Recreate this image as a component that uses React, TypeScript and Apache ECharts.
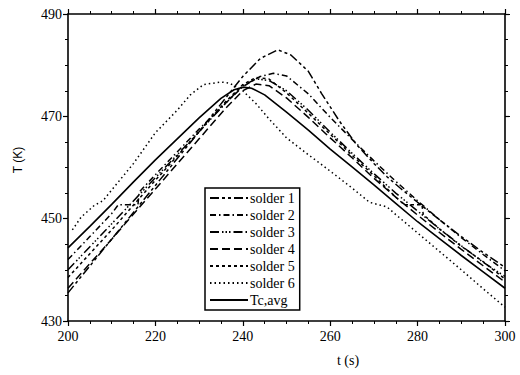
import React, { useEffect, useRef } from "react";
import * as echarts from "echarts";

const xTicks = [200, 220, 240, 260, 280, 300];
const yTicks = [430, 450, 470, 490];

const s1T = [200, 210, 220, 230, 236, 240, 244, 248, 251, 255, 258, 262, 266, 270, 273, 276, 280, 285, 290, 295, 300];
const s1V = [435.5, 446, 456.5, 467, 473.5, 477.8, 481.3, 483, 482, 478.8, 474.5, 469.2, 464.5, 460.8, 458.2, 456, 453.2, 449.8, 446.5, 443.4, 440.5];

const s2T = [200, 205, 210, 211.5, 216, 216.3, 220, 230, 236, 240, 244, 247, 250, 255, 260, 265, 270, 275, 280, 285, 290, 295, 300];
const s2V = [442, 446.5, 451, 452.7, 452.7, 455.2, 458.6, 467.5, 472.5, 475.8, 477.8, 478.4, 477.9, 474.4, 469.8, 465.5, 461.3, 457.3, 453.5, 449.8, 446.3, 443, 439.8];

const s3T = [200, 210, 220, 230, 236, 240, 243, 246, 250, 255, 260, 265, 270, 275, 280, 285, 290, 295, 300];
const s3V = [440, 449, 458, 467, 472.5, 476, 477.3, 477, 475, 471.2, 466.9, 462.8, 458.8, 455, 451.5, 448, 444.7, 441.5, 438.7];

const s4T = [200, 210, 220, 230, 236, 240, 243, 246, 250, 255, 260, 265, 270, 275, 280, 285, 290, 295, 300];
const s4V = [436.4, 446, 455.8, 465.6, 471.5, 475, 476.3, 476, 473.6, 469.8, 465.8, 461.9, 457.9, 454.2, 450.7, 447.3, 444, 440.8, 437.6];

const s5T = [200, 210, 220, 230, 236, 240, 243, 246, 250, 255, 260, 265, 270, 275, 277, 281, 281.3, 285, 290, 295, 300];
const s5V = [438.5, 447.8, 457.5, 467, 472.8, 476.2, 477.6, 477.3, 474.6, 470.6, 466.5, 462.4, 458.4, 454.2, 452.7, 452.7, 450.8, 448, 444.6, 441.6, 438.2];

const s6T = [201, 203, 206, 208, 210, 215, 220, 225, 228, 231, 235, 237, 240, 243, 246, 250, 255, 260, 265, 269, 273, 275, 280, 285, 290, 295, 300];
const s6V = [447.8, 450.3, 452.6, 453.5, 455.6, 460.8, 466.8, 471.2, 474.2, 476.2, 476.7, 476.5, 475, 472.5, 469.5, 465.8, 462.5, 459.3, 456, 453.2, 452.3, 450.8, 447.2, 443.6, 440, 436.3, 432.7];

const avgT = [200, 205, 210, 215, 220, 225, 230, 235, 238, 240, 242, 245, 250, 255, 260, 265, 270, 275, 280, 285, 290, 295, 300];
const avgV = [444.3, 448.5, 452.8, 457.2, 461.5, 465.6, 469.7, 473.5, 475.2, 475.7, 475.5, 474.2, 470.8, 467.3, 463.6, 460.1, 456.6, 453, 449.4, 446.1, 442.8, 439.6, 436.4];

const seriesNames = ["solder 1", "solder 2", "solder 3", "solder 4", "solder 5", "solder 6", "Tc,avg"];

const pair = (t: number[], v: number[]) => t.map((x, i) => [x, v[i]]);

export default function App() {
  const ref = useRef<HTMLDivElement>(null);
  useEffect(() => {
    if (!ref.current) return;
    const chart = echarts.init(ref.current, null, { renderer: "svg" });
    const dashes: any[] = [
      [9, 3, 3, 3, 3, 3],
      [6, 3, 1.5, 3],
      [9, 3, 1.5, 2, 1.5, 2, 1.5, 3],
      [8, 4],
      [3, 3],
      [1.5, 3],
      "solid",
    ];
    const datas = [
      pair(s1T, s1V),
      pair(s2T, s2V),
      pair(s3T, s3V),
      pair(s4T, s4V),
      pair(s5T, s5V),
      pair(s6T, s6V),
      pair(avgT, avgV),
    ];
    const axisCommon = {
      axisLine: { show: true, lineStyle: { color: "#000", width: 1.6 } },
      axisTick: { show: true, length: 5, lineStyle: { color: "#000", width: 1.2 } },
      minorTick: { show: true, splitNumber: 4, length: 3, lineStyle: { color: "#000", width: 1 } },
      splitLine: { show: false },
    };
    const serif = "'Liberation Serif', 'Times New Roman', serif";
    chart.setOption({
      animation: false,
      backgroundColor: "#fff",
      grid: { left: 68, right: 15, top: 14, bottom: 54 },
      xAxis: [
        {
          type: "value",
          min: xTicks[0],
          max: xTicks[xTicks.length - 1],
          interval: 20,
          position: "bottom",
          ...axisCommon,
          axisLabel: { color: "#000", fontSize: 14, fontFamily: serif, margin: 8 },
        },
        {
          type: "value",
          min: xTicks[0],
          max: xTicks[xTicks.length - 1],
          interval: 20,
          position: "top",
          ...axisCommon,
          axisLabel: { show: false },
        },
      ],
      yAxis: [
        {
          type: "value",
          min: yTicks[0],
          max: yTicks[yTicks.length - 1],
          interval: 20,
          position: "left",
          ...axisCommon,
          axisLabel: { color: "#000", fontSize: 14, fontFamily: serif, margin: 6 },
        },
        {
          type: "value",
          min: yTicks[0],
          max: yTicks[yTicks.length - 1],
          interval: 20,
          position: "right",
          ...axisCommon,
          axisLabel: { show: false },
        },
      ],
      legend: {
        orient: "vertical",
        left: 205,
        top: 188,
        itemWidth: 38,
        itemHeight: 10,
        itemGap: 3,
        padding: [3, 5, 3, 4],
        borderColor: "#000",
        borderWidth: 1.5,
        backgroundColor: "#fff",
        itemStyle: { color: "transparent", borderColor: "transparent", borderWidth: 0, opacity: 0 },
        textStyle: { color: "#000", fontSize: 14, fontFamily: serif, padding: [0, 0, 0, -3] },
        data: seriesNames,
      },
      graphic: [
        {
          type: "text",
          x: 18,
          y: 160,
          rotation: Math.PI / 2,
          style: { text: "T (K)", fontSize: 12, fontFamily: "'Liberation Sans', Arial, sans-serif", fill: "#000", align: "center", verticalAlign: "middle" },
        },
        {
          type: "text",
          x: 348,
          y: 360,
          style: { text: "t (s)", fontSize: 14, fontFamily: serif, fill: "#000", align: "center", verticalAlign: "middle" },
        },
      ],
      series: seriesNames.map((name, i) => ({
        name,
        type: "line",
        data: datas[i],
        symbol: "none",
        smooth: false,
        z: i === 6 ? 5 : 3,
        lineStyle: { color: "#000", width: i === 6 ? 1.6 : 1.5, type: dashes[i] },
        itemStyle: { color: "#000" },
      })),
    });
    return () => chart.dispose();
  }, []);
  return <div ref={ref} style={{ width: 520, height: 375, position: "absolute", left: 0, top: 0 }} />;
}
